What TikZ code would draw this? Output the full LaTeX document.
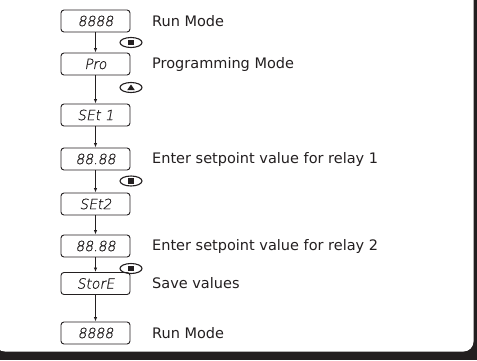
\documentclass[tikz,border=0pt]{standalone}
\usepackage{fontspec}
\setmainfont{DejaVu Sans}
\newfontfamily\segfont[FakeSlant=0.18,FakeBold=0.8]{DejaVu Sans ExtraLight}
\usetikzlibrary{shapes.geometric,arrows.meta}
\definecolor{ink}{HTML}{231F20}
\tikzset{
  segbox/.style={draw=ink, line width=0.9pt, rounded corners=3pt, minimum width=69pt, minimum height=22pt, inner sep=0pt, text=ink, font=\segfont\fontsize{14}{14}\selectfont},
  lbl/.style={anchor=west, inner sep=0pt, text=ink, font=\fontsize{14.5}{16}\selectfont},
  flow/.style={draw=ink, line width=0.8pt, -{Latex[length=4.5pt,width=3.5pt]}},
  btn/.style={draw=ink, ellipse, line width=1.1pt, minimum width=22pt, minimum height=10pt, inner sep=0pt},
}
\begin{document}
\begin{tikzpicture}[x=1pt,y=-1pt]
\useasboundingbox (0,0) rectangle (477,360);
\fill[ink] (0,0) rectangle (477,360);
\fill[white, rounded corners=10pt] (-5,-20) rectangle (473.5,351.5);

\node[segbox] (b1) at (95.5,21) {8888};
\node[segbox] (b2) at (95.5,64) {Pro};
\node[segbox] (b3) at (95.5,115) {SEt 1};
\node[segbox] (b4) at (95.5,159) {88.88};
\node[segbox] (b5) at (95.5,204) {SEt2};
\node[segbox] (b6) at (95.5,246) {88.88};
\node[segbox] (b7) at (95.5,283.5) {StorE};
\node[segbox] (b8) at (95.5,333) {8888};

\draw[flow] (b1) -- (b2);
\draw[flow] (b2) -- (b3);
\draw[flow] (b3) -- (b4);
\draw[flow] (b4) -- (b5);
\draw[flow] (b5) -- (b6);
\draw[flow] (b6) -- (b7);
\draw[flow] (b7) -- (b8);

\node[lbl] (l1) at (152,21) {Run Mode};
\node[lbl] (l2) at (152,64) {Programming Mode};
\node[lbl] (l4) at (152,159) {Enter setpoint value for relay 1};
\node[lbl] (l6) at (152,246) {Enter setpoint value for relay 2};
\node[lbl] (l7) at (152,283.5) {Save values};
\node[lbl] (l8) at (152,333) {Run Mode};

\node[btn] (k1) at (131,42.5) {};
\fill[ink] ([shift={(-2.6,-2.6)}]k1.center) rectangle ([shift={(2.6,2.6)}]k1.center);
\node[btn] (k2) at (131,87.5) {};
\fill[ink] ([shift={(-3.8,2.6)}]k2.center) -- ([shift={(3.8,2.6)}]k2.center) -- ([shift={(0,-3)}]k2.center) -- cycle;
\node[btn] (k3) at (131,181) {};
\fill[ink] ([shift={(-2.6,-2.6)}]k3.center) rectangle ([shift={(2.6,2.6)}]k3.center);
\node[btn] (k4) at (131,268.5) {};
\fill[ink] ([shift={(-2.6,-2.6)}]k4.center) rectangle ([shift={(2.6,2.6)}]k4.center);
\end{tikzpicture}
\end{document}
